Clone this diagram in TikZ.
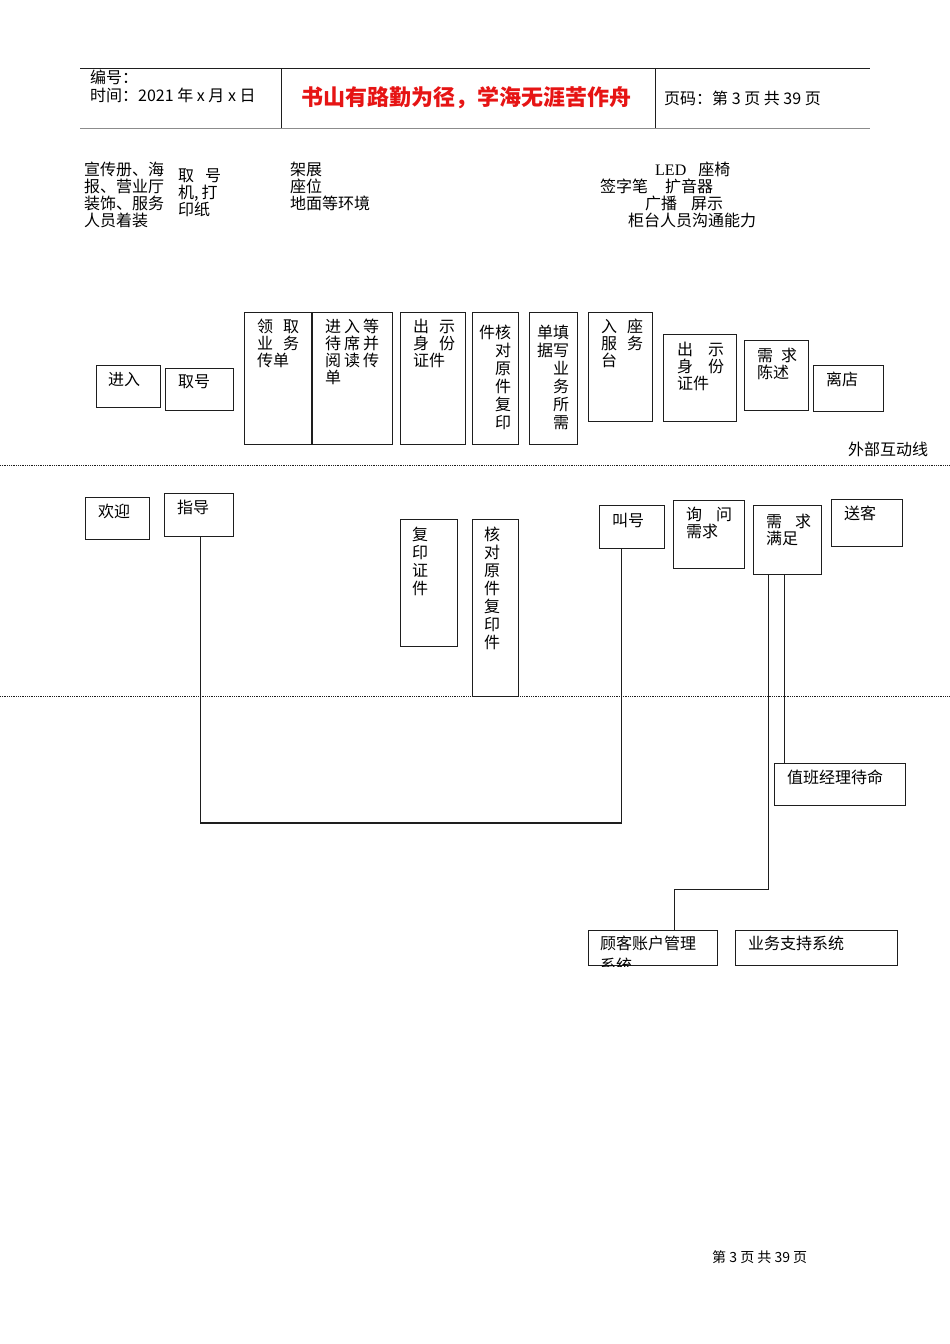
\documentclass[tikz,border=0pt]{standalone}
\usepackage{fontspec}
\setmainfont{Noto Sans CJK SC}
\newfontfamily\latinserif{Liberation Serif}
\usepackage{xcolor}
\usepackage{tikz}
\usetikzlibrary{positioning, calc}
\definecolor{mydark}{RGB}{30,30,30}
\definecolor{mygrey}{RGB}{140,140,140}
\definecolor{myred}{RGB}{230,20,20}
\tikzset{
  box/.style={rectangle, draw=mydark, anchor=north west, inner sep=0pt,
    line width=1.1pt},
  txt/.style={anchor=north west, inner sep=0pt, align=left,
    font=\fontsize{16}{17}\selectfont},
  vtxt/.style={anchor=north west, inner sep=0pt, align=left,
    font=\fontsize{16}{18}\selectfont},
  hdr/.style={anchor=north west, inner sep=0pt, align=left,
    font=\fontsize{16}{18}\selectfont},
  line/.style={line width=1.1pt, color=mydark},
  sepline/.style={densely dotted, line width=0.8pt, color=mydark}
}

\begin{document}
\begin{tikzpicture}[x=1pt, y=-1pt]
  \useasboundingbox (0,0) rectangle (950,1344);

  % Page header
  \draw[line width=0.8pt, color=mydark] (80,68) -- (870,68);
  \draw[line width=1.6pt, color=mygrey] (80,128.5) -- (870,128.5);
  \draw[line width=0.8pt, color=mydark] (281,68) -- (281,128);
  \draw[line width=0.8pt, color=mydark] (655,68) -- (655,128);
  \node[hdr] (bianhao) at (90,70) {编号：\\时间：2021 年 x 月 x 日};
  \node[anchor=west, inner sep=0pt, text=myred, font=\fontsize{22}{22}\selectfont\bfseries] (motto) at (301,98) {书山有路勤为径，学海无涯苦作舟};
  \node[anchor=west, inner sep=0pt, font=\fontsize{16}{16}\selectfont] (yema) at (664,98) {页码：第 3 页 共 39 页};

  % Physical evidence texts
  \node[txt] (ev1) at (84,162) {宣传册、海\\报、营业厅\\装饰、服务\\人员着装};
  \node[txt] (ev2) at (178,169) {取\hspace{11pt}号\\机,\hspace{3pt}打\\印纸};
  \node[txt] (ev3) at (290,162) {架展\\座位\\地面等环境};
  \node[txt] (ev4) at (655,162) {{\latinserif LED}\hspace{12pt}座椅};
  \node[txt] (ev5) at (600,179) {签字笔\hspace{17pt}扩音器};
  \node[txt] (ev6) at (645,196) {广播\hspace{14pt}屏示};
  \node[txt] (ev7) at (628,213) {柜台人员沟通能力};

  % Customer actions
  \node[box, minimum width=64pt, minimum height=42pt] (jinru) at (96,365) {};
  \node[txt] at ([shift={(12,7)}]jinru.north west) {进入};
  \node[box, minimum width=68pt, minimum height=42pt] (quhao) at (165,368) {};
  \node[txt] at ([shift={(13,7)}]quhao.north west) {取号};
  \node[box, minimum width=67pt, minimum height=132pt] (lingqu) at (244,312) {};
  \node[txt] at ([shift={(13,7)}]lingqu.north west) {领\hspace{10pt}取\\业\hspace{10pt}务\\传单};
  \node[box, minimum width=80pt, minimum height=132pt] (dengdai) at (312,312) {};
  \node[txt] at ([shift={(13,7)}]dengdai.north west) {进\hspace{3pt}入\hspace{3pt}等\\待\hspace{3pt}席\hspace{3pt}并\\阅\hspace{3pt}读\hspace{3pt}传\\单};
  \node[box, minimum width=65pt, minimum height=132pt] (chushi) at (400,312) {};
  \node[txt] at ([shift={(13,7)}]chushi.north west) {出\hspace{10pt}示\\身\hspace{10pt}份\\证件};
  \node[box, minimum width=46pt, minimum height=132pt] (hedui) at (472,312) {};
  \node[vtxt] at ([shift={(7,13)}]hedui.north west) {件核\\\hphantom{件}对\\\hphantom{件}原\\\hphantom{件}件\\\hphantom{件}复\\\hphantom{件}印};
  \node[box, minimum width=48pt, minimum height=132pt] (tianxie) at (529,312) {};
  \node[vtxt] at ([shift={(8,13)}]tianxie.north west) {单填\\据写\\\hphantom{据}业\\\hphantom{据}务\\\hphantom{据}所\\\hphantom{据}需};
  \node[box, minimum width=64pt, minimum height=109pt] (ruzuo) at (588,312) {};
  \node[txt] at ([shift={(13,7)}]ruzuo.north west) {入\hspace{10pt}座\\服\hspace{10pt}务\\台};
  \node[box, minimum width=73pt, minimum height=87pt] (chushib) at (663,334) {};
  \node[txt] at ([shift={(14,8)}]chushib.north west) {出\hspace{15pt}示\\身\hspace{15pt}份\\证件};
  \node[box, minimum width=64pt, minimum height=70pt] (chenshu) at (744,340) {};
  \node[txt] at ([shift={(13,8)}]chenshu.north west) {需\hspace{8pt}求\\陈述};
  \node[box, minimum width=70pt, minimum height=46pt] (lidian) at (813,365) {};
  \node[txt] at ([shift={(13,7)}]lidian.north west) {离店};

  % Line of interaction
  \node[txt] (hudong) at (848,442) {外部互动线};
  \draw[sepline] (0,465) -- (950,465);

  % Front stage
  \node[box, minimum width=64pt, minimum height=42pt] (huanying) at (85,497) {};
  \node[txt] at ([shift={(13,7)}]huanying.north west) {欢迎};
  \node[box, minimum width=69pt, minimum height=43pt] (zhidao) at (164,493) {};
  \node[txt] at ([shift={(13,7)}]zhidao.north west) {指导};
  \node[box, minimum width=57pt, minimum height=127pt] (fuyin) at (400,519) {};
  \node[vtxt] at ([shift={(12,8)}]fuyin.north west) {复\\印\\证\\件};
  \node[box, minimum width=46pt, minimum height=177pt] (heduib) at (472,519) {};
  \node[vtxt] at ([shift={(12,8)}]heduib.north west) {核\\对\\原\\件\\复\\印\\件};
  \node[box, minimum width=65pt, minimum height=43pt] (jiaohao) at (599,505) {};
  \node[txt] at ([shift={(13,8)}]jiaohao.north west) {叫号};
  \node[box, minimum width=71pt, minimum height=68pt] (xunwen) at (673,500) {};
  \node[txt] at ([shift={(13,7)}]xunwen.north west) {询\hspace{14pt}问\\需求};
  \node[box, minimum width=68pt, minimum height=69pt] (manzu) at (753,505) {};
  \node[txt] at ([shift={(13,9)}]manzu.north west) {需\hspace{13pt}求\\满足};
  \node[box, minimum width=71pt, minimum height=47pt] (songke) at (831,499) {};
  \node[txt] at ([shift={(13,7)}]songke.north west) {送客};

  % Line of visibility
  \draw[sepline] (0,696) -- (950,696);

  % Back stage and support
  \node[box, minimum width=131pt, minimum height=42pt] (zhiban) at (774,763) {};
  \node[txt] at ([shift={(13,7)}]zhiban.north west) {值班经理待命};
  \node[box, minimum width=129pt, minimum height=35pt] (zhanghu) at (588,930) {};
  \begin{scope}
    \clip (zhanghu.north west) rectangle (zhanghu.south east);
    \node[txt] at ([shift={(12,6)}]zhanghu.north west) {顾客账户管理\\[5pt]系统};
  \end{scope}
  \node[box, minimum width=162pt, minimum height=35pt] (zhichi) at (735,930) {};
  \node[txt] at ([shift={(13,6)}]zhichi.north west) {业务支持系统};

  % Connectors
  \draw[line] ([xshift=1.5pt]zhidao.south) -- ([xshift=1.5pt]zhidao.south |- 0,823) -| ([xshift=-10.5pt]jiaohao.south);
  \draw[line] ([xshift=-3pt]manzu.south) -- ([xshift=-3pt]manzu.south |- zhiban.north);
  \draw[line] ([xshift=-19pt]manzu.south) -- ++(0,314) -| ([xshift=21.5pt]zhanghu.north);

  % Page footer
  \node[anchor=west, inner sep=0pt, font=\fontsize{14}{14}\selectfont] (footer) at (712,1257) {第 3 页 共 39 页};
\end{tikzpicture}
\end{document}
